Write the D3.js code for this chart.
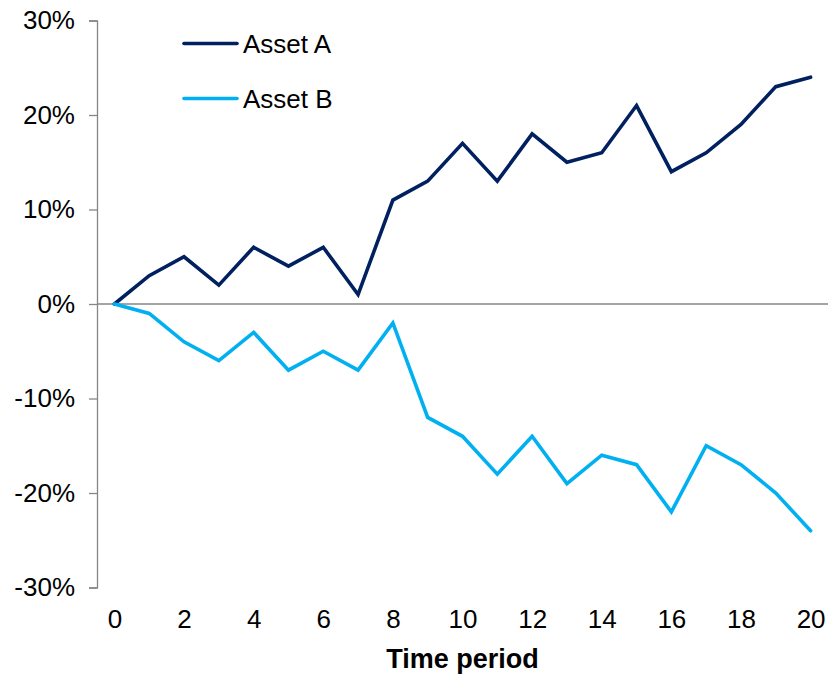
<!DOCTYPE html>
<html><head><meta charset="utf-8">
<script src="https://cdn.jsdelivr.net/npm/d3@7"></script>
<style>body{margin:0;background:#fff}svg{display:block}text{font-family:"Liberation Sans",Arial,sans-serif}</style>
</head><body>
<svg id="c" width="830" height="677"></svg>
<script>
const periods = d3.range(0, 21);
const assetA = [0,3,5,2,6,4,6,1,11,13,17,13,18,15,16,21,14,16,19,23,24];
const assetB = [0,-1,-4,-6,-3,-7,-5,-7,-2,-12,-14,-18,-14,-19,-16,-17,-22,-15,-17,-20,-24];
const yTicks = [-30,-20,-10,0,10,20,30];
const xTickLabels = [0,2,4,6,8,10,12,14,16,18,20];
const seriesNames = ["Asset A","Asset B"];
const colors = ["#002060","#00B0F0"];

(function () {
const svg = d3.select("#c");
const mLeft = 97, mRight = 828, mTop = 20.5, mBottom = 587.5;
const x = d3.scalePoint().domain(periods).range([mLeft, mRight]).padding(0.5);
const y = d3.scaleLinear().domain([-30, 30]).range([mBottom, mTop]);
const axisColor = "#868686";

// y axis
const ya = svg.append("g").attr("transform", `translate(${mLeft},0)`)
  .call(d3.axisLeft(y).tickValues(yTicks).tickSize(8).tickPadding(14).tickFormat(d => d + "%"));
ya.select(".domain").attr("stroke", axisColor).attr("stroke-width", 1.3);
ya.selectAll(".tick line").attr("stroke", axisColor).attr("stroke-width", 1.3);
ya.selectAll(".tick text").attr("font-size", 26).attr("fill", "#000").attr("font-family", "Liberation Sans, Arial, sans-serif");

// zero line
svg.append("line").attr("x1", mLeft).attr("x2", mRight).attr("y1", y(0)).attr("y2", y(0))
  .attr("stroke", axisColor).attr("stroke-width", 1.3);

// x labels
const xa = svg.append("g").attr("transform", `translate(0,${mBottom})`)
  .call(d3.axisBottom(x).tickValues(xTickLabels).tickSize(0).tickPadding(22));
xa.select(".domain").remove();
xa.selectAll(".tick text").attr("font-size", 26).attr("fill", "#000").attr("font-family", "Liberation Sans, Arial, sans-serif");

svg.append("text").attr("x", (mLeft + mRight) / 2).attr("y", 668).attr("text-anchor", "middle")
  .attr("font-size", 27).attr("font-weight", "bold").text("Time period");

const line = d3.line().x((d, i) => x(periods[i])).y(d => y(d));
[assetA, assetB].forEach((s, k) => {
  svg.append("path").datum(s).attr("d", line).attr("fill", "none")
    .attr("stroke", colors[k]).attr("stroke-width", 3.6).attr("stroke-linejoin", "miter").attr("stroke-linecap", "round");
});

// legend
seriesNames.forEach((n, k) => {
  const ly = 43.5 + k * 55;
  svg.append("line").attr("x1", 184).attr("x2", 237).attr("y1", ly).attr("y2", ly)
    .attr("stroke", colors[k]).attr("stroke-width", 3.6).attr("stroke-linecap", "round");
  svg.append("text").attr("x", 243).attr("y", ly + 9).attr("font-size", 26).attr("fill", "#000").text(n);
});
})();
</script>
</body></html>
